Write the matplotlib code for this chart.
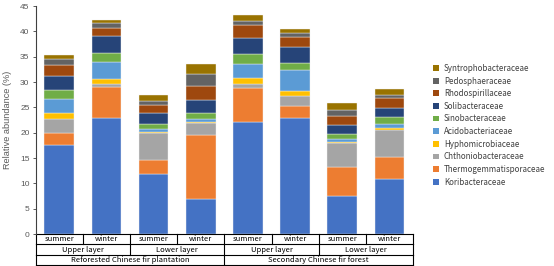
import numpy as np
import matplotlib
matplotlib.use("Agg")
from matplotlib import pyplot as plt
from matplotlib.patches import Patch

# Samples (forest / layer / season)
seasons = ["summer", "winter"] * 4
layers = ["Upper layer", "Lower layer"] * 2
forests = ["Reforested Chinese fir plantation", "Secondary Chinese fir forest"]

# Relative abundance (%) of each family, stacked bottom to top
families = ["Koribacteraceae", "Thermogemmatisporaceae", "Chthoniobacteraceae",
            "Hyphomicrobiaceae", "Acidobacteriaceae", "Sinobacteraceae",
            "Solibacteraceae", "Rhodospirillaceae", "Pedosphaeraceae",
            "Syntrophobacteraceae"]
koribacteraceae = [17.5, 22.9, 11.8, 7.0, 22.2, 22.8, 7.5, 10.9]
thermogemmatisporaceae = [2.4, 6.2, 2.8, 12.6, 6.6, 2.5, 5.7, 4.3]
chthoniobacteraceae = [2.8, 0.6, 5.3, 2.3, 0.9, 1.9, 4.7, 5.4]
hyphomicrobiaceae = [1.2, 0.9, 0.3, 0.3, 1.0, 1.1, 0.3, 0.4]
acidobacteriaceae = [2.7, 3.4, 0.5, 0.5, 2.9, 4.1, 0.5, 0.8]
sinobacteraceae = [1.9, 1.7, 1.0, 1.1, 1.9, 1.4, 1.0, 1.3]
solibacteraceae = [2.7, 3.4, 2.1, 2.6, 3.1, 3.1, 1.8, 1.8]
rhodospirillaceae = [2.2, 1.6, 1.7, 2.9, 2.6, 2.0, 1.8, 1.9]
pedosphaeraceae = [1.1, 1.0, 0.7, 2.3, 0.8, 0.8, 1.2, 0.6]
syntrophobacteraceae = [0.8, 0.5, 1.3, 1.9, 1.2, 0.8, 1.4, 1.3]

series = [koribacteraceae, thermogemmatisporaceae, chthoniobacteraceae,
          hyphomicrobiaceae, acidobacteriaceae, sinobacteraceae,
          solibacteraceae, rhodospirillaceae, pedosphaeraceae,
          syntrophobacteraceae]
colors = ["#4472C4", "#ED7D31", "#A5A5A5", "#FFC000", "#5B9BD5",
          "#70AD47", "#264478", "#9E480E", "#636363", "#997300"]

cjk = ["Noto Sans CJK SC", "DejaVu Sans"]

fig = plt.figure(figsize=(5.54, 2.66), dpi=100)
ax = fig.add_axes([0.0645, 0.1203, 0.681, 0.8571])

x = np.arange(len(seasons))
bottom = np.zeros(len(seasons))
for vals, col in zip(series, colors):
    ax.bar(x, vals, width=0.63, bottom=bottom, color=col,
           edgecolor="#f2f2f2", linewidth=0.3)
    bottom += np.array(vals)

ax.set_xlim(-0.5, len(seasons) - 0.5)
ax.set_ylim(0, 45)
ax.set_yticks(np.arange(0, 46, 5))
ax.set_xticks([])
for s in ["top", "right", "bottom"]:
    ax.spines[s].set_visible(False)
ax.spines["left"].set_color("#404040")
ax.spines["left"].set_linewidth(0.8)
ax.tick_params(axis="y", length=2.5, width=0.6, color="#404040",
               labelsize=6, labelcolor="#595959", pad=2)
for lab in ax.get_yticklabels():
    lab.set_family("Liberation Sans")
ax.set_ylabel("Relative abundance (%)", fontsize=6.6, color="#595959",
              family="Liberation Sans", labelpad=6)

# Category table under the bars
rh = 0.0456
tr = ax.get_xaxis_transform()
lw = 0.8
n = len(seasons)
for k in range(4):
    ax.plot([-0.5, n - 0.5], [-k * rh] * 2, transform=tr, color="black",
            lw=lw, clip_on=False)
rows = [(seasons, 1), (layers, 2), (forests, 4)]
for r, (labels, span) in enumerate(rows):
    y0, y1 = -r * rh, -(r + 1) * rh
    for i in range(0, n + 1, span):
        ax.plot([i - 0.5, i - 0.5], [y0, y1], transform=tr, color="black",
                lw=lw, clip_on=False)
    for j, lab in enumerate(labels):
        xc = j * span - 0.5 + span / 2
        ax.text(xc, (y0 + y1) / 2, lab, transform=tr, ha="center",
                va="center", fontsize=5.5, family=cjk, color="black")

handles = [Patch(facecolor=c, label=f) for c, f in zip(colors, families)]
leg = fig.legend(handles[::-1], families[::-1], loc="upper left",
                 bbox_to_anchor=(0.775, 0.775), frameon=False,
                 prop={"family": cjk, "size": 5.8}, handlelength=0.7,
                 handleheight=0.7, handletextpad=0.6, labelspacing=0.45,
                 borderpad=0)
for t in leg.get_texts():
    t.set_color("#404040")

fig.savefig("out.png", dpi=100)
